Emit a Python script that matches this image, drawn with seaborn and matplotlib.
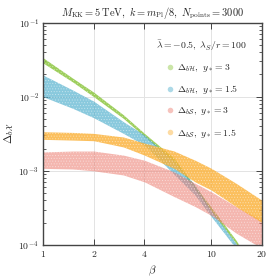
import numpy as np
import pandas as pd
import matplotlib
matplotlib.use("Agg")
import matplotlib.pyplot as plt
import matplotlib.ticker as mticker
from matplotlib.lines import Line2D
import seaborn as sns

beta = [1, 1.5, 2, 3, 4, 6, 8, 10, 14, 20]

# Delta_bH, y* = 3 (green)
bH3_lo = [2.85e-2, 1.58e-2, 1.00e-2, 5.1e-3, 2.9e-3, 1.32e-3, 5.6e-4, 2.8e-4, 1.05e-4, 2.8e-5]
bH3_hi = [3.35e-2, 1.78e-2, 1.15e-2, 5.7e-3, 3.2e-3, 1.48e-3, 6.2e-4, 3.2e-4, 1.16e-4, 3.2e-5]
# Delta_bH, y* = 1.5 (blue)
bH15_lo = [1.0e-2, 6.97e-3, 5.2e-3, 3.2e-3, 2.22e-3, 9.0e-4, 4.7e-4, 2.4e-4, 9.0e-5, 2.2e-5]
bH15_hi = [1.96e-2, 1.23e-2, 8.7e-3, 4.6e-3, 3.05e-3, 1.35e-3, 6.4e-4, 2.9e-4, 1.05e-4, 2.5e-5]
# Delta_bS, y* = 3 (red)
bS3_lo = [1.08e-3, 1.06e-3, 1.0e-3, 8.8e-4, 7.1e-4, 4.5e-4, 3.3e-4, 2.5e-4, 1.45e-4, 9.0e-5]
bS3_hi = [1.8e-3, 1.85e-3, 1.85e-3, 1.63e-3, 1.39e-3, 9.7e-4, 6.8e-4, 5.2e-4, 3.3e-4, 2.15e-4]
# Delta_bS, y* = 1.5 (orange)
bS15_lo = [2.66e-3, 2.6e-3, 2.55e-3, 2.1e-3, 1.63e-3, 1.08e-3, 7.1e-4, 5.5e-4, 3.3e-4, 2.0e-4]
bS15_hi = [3.37e-3, 3.3e-3, 3.2e-3, 2.86e-3, 2.37e-3, 1.85e-3, 1.39e-3, 1.08e-3, 6.8e-4, 4.0e-4]

labels = [r"$\Delta_{b\mathcal{H}},\ y_* = 3$", r"$\Delta_{b\mathcal{H}},\ y_* = 1.5$",
          r"$\Delta_{b\mathcal{S}},\ y_* = 3$", r"$\Delta_{b\mathcal{S}},\ y_* = 1.5$"]
colors = ["#8cc63f", "#4aaccb", "#ec7a6e", "#fbb034"]
bands = [(bH3_lo, bH3_hi), (bH15_lo, bH15_hi), (bS3_lo, bS3_hi), (bS15_lo, bS15_hi)]
alphas = [0.85, 0.65, 0.55, 0.8]

sns.set_style("ticks")
plt.rcParams["font.family"] = "serif"
plt.rcParams["font.serif"] = ["cmr10", "DejaVu Serif"]
plt.rcParams["mathtext.fontset"] = "cm"
plt.rcParams["axes.unicode_minus"] = False
plt.rcParams["axes.formatter.use_mathtext"] = True
plt.rcParams["hatch.linewidth"] = 0.4

fig = plt.figure(figsize=(2.8, 2.79), dpi=100)
ax = fig.add_axes([0.154, 0.122, 0.782, 0.797])
ax.set_facecolor("white")
ax.set_xscale("log")
ax.set_yscale("log")

for (lo, hi), lab, c, a in zip(bands, labels, colors, alphas):
    df = pd.DataFrame({"beta": beta + beta, "delta": lo + hi})
    sns.lineplot(data=df, x="beta", y="delta", estimator="median",
                 errorbar=("pi", 100), color=c, lw=0, ax=ax,
                 err_kws=dict(alpha=a, lw=0))
    # light speckle so the band reads like a cloud of points
    ax.fill_between(beta, lo, hi, facecolor="none", edgecolor="white",
                    hatch="......", lw=0, alpha=0.45)

ax.set_xlim(1, 20)
ax.set_ylim(1e-4, 1e-1)
ax.xaxis.set_major_locator(mticker.FixedLocator([1, 2, 4, 10, 20]))
ax.xaxis.set_major_formatter(mticker.FixedFormatter(["$1$", "$2$", "$4$", "$10$", "$20$"]))
ax.xaxis.set_minor_locator(mticker.NullLocator())
ax.yaxis.set_major_locator(mticker.LogLocator(base=10, numticks=10))
ax.yaxis.set_minor_locator(mticker.LogLocator(base=10, subs=np.arange(2, 10), numticks=10))
ax.yaxis.set_minor_formatter(mticker.NullFormatter())

ax.grid(True, which="major", color="#e3e3e3", lw=0.7)
ax.set_axisbelow(True)
ax.tick_params(which="both", direction="in", top=True, right=True,
               labelsize=7, color="#444444", pad=3)
ax.tick_params(which="major", length=4, width=0.7)
ax.tick_params(which="minor", length=2.5, width=0.6)
for sp in ax.spines.values():
    sp.set_color("#444444")
    sp.set_linewidth(1.0)

ax.set_xlabel(r"$\beta$", fontsize=8, labelpad=3)
ax.set_ylabel(r"$\Delta_{b\mathcal{X}}$", fontsize=8, labelpad=2)
ax.set_title(r"$M_{\rm KK} = 5\,{\rm TeV},\ k = m_{\rm Pl}/8,\ N_{\rm points} = 3000$",
             fontsize=7.5, pad=5)

handles = [Line2D([], [], ls="", marker="o", ms=4, color=c, alpha=0.45, mew=0)
           for c in colors]
leg = ax.legend(handles, labels, loc="upper right", frameon=False, fontsize=7,
                title=r"$\bar{\lambda} = -0.5,\ \lambda_S/r = 100$", title_fontsize=7,
                labelspacing=0.95, handletextpad=0.2, handlelength=1.2,
                borderaxespad=1.2)

fig.savefig("out.png", dpi=100)
